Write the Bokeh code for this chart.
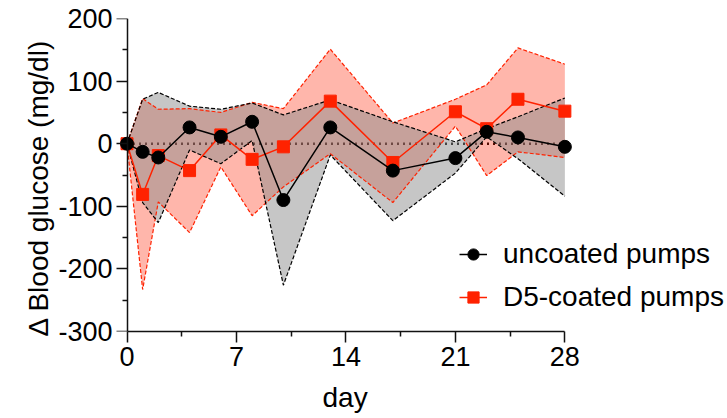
from bokeh.plotting import figure
from bokeh.models import Range1d, FixedTicker, Legend, LegendItem, ColumnDataSource, LinearAxis, Title
from bokeh.embed import file_html
from bokeh.resources import INLINE

days = [0, 1, 2, 4, 6, 8, 10, 13, 17, 21, 23, 25, 28]
uncoated_mean = [0, -13, -22, 26, 11, 35, -90, 26, -43, -23, 19, 10, -5]
uncoated_upper = [0, 71, 82, 60, 55, 65, 46, 70, 35, 3, 24, 43, 73]
uncoated_lower = [0, -94, -126, -10, -32, 5, -226, -18, -123, -47, 11, -24, -84]
d5_mean = [0, -81, -19, -43, 14, -25, -5, 68, -30, 51, 24, 71, 52]
d5_upper = [0, 72, 55, 56, 50, 66, 56, 151, 33, 71, 94, 153, 127]
d5_lower = [0, -233, -93, -142, -37, -115, -69, -16, -94, 28, -51, -13, -22]

x_ticks = [0, 7, 14, 21, 28]
x_minor = [3.5, 10.5, 17.5, 24.5]
y_ticks = [-300, -200, -100, 0, 100, 200]
y_minor = [-250, -150, -50, 50, 150]
y_tick_labels = ["-300", "-200", "-100", "0", "100", "200"]
legend_labels = ["uncoated pumps", "D5-coated pumps"]
x_title = "day"
y_title = "Δ Blood glucose (mg/dl)"

FONT = "Liberation Sans"
RED = "#FF2200"
AX = "#111111"

src = ColumnDataSource(dict(days=days, um=uncoated_mean, uu=uncoated_upper, ul=uncoated_lower,
                            dm=d5_mean, du=d5_upper, dl=d5_lower))

p = figure(width=727, height=418, output_backend="svg", toolbar_location=None,
           x_range=Range1d(-0.8, 38.4), y_range=Range1d(-300, 200),
           min_border_left=114, min_border_right=0, min_border_top=18, min_border_bottom=87,
           frame_width=613, frame_height=313)
p.outline_line_color = None
p.grid.visible = False
p.background_fill_color = "white"
p.border_fill_color = "white"

# zero reference line
p.line(x=[0, 28], y=[0, 0], line_color="black", line_width=2.5, line_dash="2 4")

# bands
p.varea(x="days", y1="dl", y2="du", source=src, fill_color=RED, fill_alpha=0.33)
p.varea(x="days", y1="ul", y2="uu", source=src, fill_color="#8B8B8B", fill_alpha=0.49)
for col in ["du", "dl"]:
    p.line(x="days", y=col, source=src, line_color=RED, line_width=1.2, line_dash="4 2")
for col in ["uu", "ul"]:
    p.line(x="days", y=col, source=src, line_color="black", line_width=1.2, line_dash="4 2")

rl = p.line(x="days", y="dm", source=src, line_color=RED, line_width=1.5)
rs = p.scatter(x="days", y="dm", source=src, marker="square", size=12, fill_color=RED, line_color=RED)
bl = p.line(x="days", y="um", source=src, line_color="black", line_width=1.5)
bs = p.scatter(x="days", y="um", source=src, marker="circle", size=13, fill_color="black", line_color="black")


def style(ax):
    ax.axis_line_width = 1.5
    ax.axis_line_color = AX
    ax.major_tick_line_width = 1.5
    ax.minor_tick_line_width = 1.5
    ax.major_tick_line_color = AX
    ax.minor_tick_line_color = AX
    ax.major_tick_in = 0
    ax.minor_tick_in = 0
    ax.major_tick_out = 11
    ax.minor_tick_out = 5
    ax.major_label_text_font = FONT
    ax.major_label_text_font_size = "27px"
    ax.major_label_text_color = "black"


# x axis (normal, at frame bottom = -300)
xa = p.xaxis[0]
style(xa)
xa.ticker = FixedTicker(ticks=x_ticks, minor_ticks=x_minor)
xa.bounds = (0, 28)
xa.major_label_standoff = 4

# y axis: tick labels only
ya = p.yaxis[0]
style(ya)
ya.axis_line_color = None
ya.major_tick_line_color = None
ya.minor_tick_line_color = None
ya.major_tick_out = 0
ya.minor_tick_out = 0
ya.ticker = FixedTicker(ticks=y_ticks, minor_ticks=y_minor)
ya.major_label_overrides = {t: s for t, s in zip(y_ticks, y_tick_labels)}
ya.major_label_standoff = 2

# y axis line and ticks at day 0
yl = LinearAxis(ticker=FixedTicker(ticks=y_ticks, minor_ticks=y_minor))
style(yl)
yl.fixed_location = 0
yl.bounds = (-300, 200)
yl.major_label_text_color = None
yl.major_label_standoff = 0
p.add_layout(yl, "left")

# empty spacer between the tick labels and the y title
sp = LinearAxis(ticker=FixedTicker(ticks=[], minor_ticks=[]))
sp.axis_line_color = None
sp.major_tick_line_color = None
sp.minor_tick_line_color = None
sp.major_label_text_color = None
sp.major_tick_in = 0
sp.minor_tick_in = 0
sp.major_tick_out = 10
sp.minor_tick_out = 0
sp.major_label_standoff = 0
p.add_layout(sp, "left")

# axis titles
tx = Title(text=x_title, align="left", offset=208, standoff=22,
           text_font=FONT, text_font_size="28px", text_font_style="normal", text_color="black")
p.add_layout(tx, "below")
ty = Title(text=y_title, align="left", offset=-5, standoff=4,
           text_font=FONT, text_font_size="28px", text_font_style="normal", text_color="black")
p.add_layout(ty, "left")

legend = Legend(items=[LegendItem(label=legend_labels[0], renderers=[bl, bs]),
                       LegendItem(label=legend_labels[1], renderers=[rl, rs])],
                location=(345, 18))
legend.background_fill_alpha = 0
legend.border_line_color = None
legend.padding = 0
legend.margin = 0
legend.spacing = 11
legend.glyph_width = 28
legend.glyph_height = 28
legend.label_height = 28
legend.label_standoff = 16
legend.label_text_font = FONT
legend.label_text_font_size = "28px"
legend.label_text_color = "black"
p.add_layout(legend, "center")

open("out.html", "w").write(file_html(p, INLINE))
